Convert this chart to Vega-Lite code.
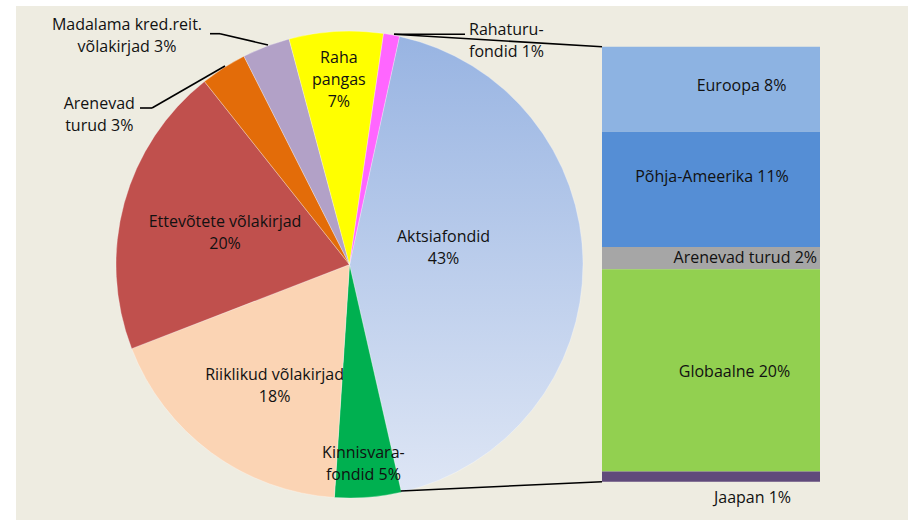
{
  "$schema": "https://vega.github.io/schema/vega-lite/v6.json",
  "width": 892,
  "height": 514,
  "autosize": {"type": "none"},
  "padding": {"left": 16, "top": 6, "right": 0, "bottom": 0},
  "background": "#FFFFFF",
  "config": {
    "view": {"fill": "#EEECE1", "stroke": null},
    "text": {"font": "Open Sans", "fontSize": 16, "lineHeight": 22, "lineBreak": "\n", "color": "#111111"}
  },
  "datasets": {
    "assets": [
      {"order": 1, "asset": "Aktsiafondid", "value": 43.0, "label": "Aktsiafondid\n43%"},
      {"order": 2, "asset": "Kinnisvarafondid", "value": 4.6, "label": "Kinnisvara-\nfondid 5%"},
      {"order": 3, "asset": "Riiklikud võlakirjad", "value": 18.1, "label": "Riiklikud võlakirjad\n18%"},
      {"order": 4, "asset": "Ettevõtete võlakirjad", "value": 20.2, "label": "Ettevõtete võlakirjad\n20%"},
      {"order": 5, "asset": "Arenevad turud", "value": 3.2, "label": "Arenevad\nturud 3%"},
      {"order": 6, "asset": "Madalama kred.reit. võlakirjad", "value": 3.3, "label": "Madalama kred.reit.\nvõlakirjad 3%"},
      {"order": 7, "asset": "Raha pangas", "value": 6.5, "label": "Raha\npangas\n7%"},
      {"order": 8, "asset": "Rahaturufondid", "value": 1.1, "label": "Rahaturu-\nfondid 1%"}
    ],
    "equity": [
      {"order": 1, "region": "Euroopa", "value": 8.4, "label": "Euroopa 8%"},
      {"order": 2, "region": "Põhja-Ameerika", "value": 11.4, "label": "Põhja-Ameerika 11%"},
      {"order": 3, "region": "Arenevad turud", "value": 2.2, "label": "Arenevad turud 2%"},
      {"order": 4, "region": "Globaalne", "value": 20.0, "label": "Globaalne 20%"},
      {"order": 5, "region": "Jaapan", "value": 1.0, "label": "Jaapan 1%"}
    ]
  },
  "resolve": {"scale": {"color": "independent"}},
  "layer": [
    {
      "data": {"name": "assets"},
      "mark": {"type": "arc", "radius": 233.5, "stroke": "#FFFFFF", "strokeWidth": 0.5, "strokeOpacity": 0.6},
      "encoding": {
        "theta": {"field": "value", "type": "quantitative", "stack": true, "scale": {"range": [0.2157, 6.4989]}},
        "order": {"field": "order"},
        "x": {"value": 333.5},
        "y": {"value": 258.5},
        "color": {
          "condition": {
            "test": "datum.asset === 'Aktsiafondid'",
            "value": {"gradient": "linear", "x1": 0, "y1": 0, "x2": 0, "y2": 1,
              "stops": [{"offset": 0, "color": "#98B4E2"}, {"offset": 1, "color": "#DEE6F5"}]}
          },
          "field": "asset",
          "type": "nominal",
          "legend": null,
          "scale": {
            "domain": ["Aktsiafondid", "Kinnisvarafondid", "Riiklikud võlakirjad", "Ettevõtete võlakirjad", "Arenevad turud", "Madalama kred.reit. võlakirjad", "Raha pangas", "Rahaturufondid"],
            "range": ["#A9C0E8", "#00B050", "#FBD4B4", "#C0504D", "#E36C09", "#B2A1C7", "#FFFF00", "#FF66FF"]
          }
        }
      }
    },
    {
      "data": {"name": "equity"},
      "transform": [{"stack": "value", "groupby": [], "sort": [{"field": "order", "order": "ascending"}], "as": ["v0", "v1"]}],
      "mark": {"type": "rect"},
      "encoding": {
        "x": {"value": 586},
        "x2": {"value": 804},
        "y": {"field": "v0", "type": "quantitative", "axis": null, "scale": {"domain": [0, 43], "range": [40.7, 475.7]}},
        "y2": {"field": "v1"},
        "color": {
          "field": "region",
          "type": "nominal",
          "legend": null,
          "scale": {
            "domain": ["Euroopa", "Põhja-Ameerika", "Arenevad turud", "Globaalne", "Jaapan"],
            "range": ["#8DB3E2", "#558ED5", "#A6A6A6", "#92D050", "#604A7B"]
          }
        }
      }
    },
    {"data": {"values": [{}]}, "mark": {"type": "rule", "color": "#000000", "strokeWidth": 1.6}, "encoding": {"x": {"value": 194}, "y": {"value": 27.7}, "x2": {"value": 204}, "y2": {"value": 27.7}}},
    {"data": {"values": [{}]}, "mark": {"type": "rule", "color": "#000000", "strokeWidth": 1.6}, "encoding": {"x": {"value": 204}, "y": {"value": 27.7}, "x2": {"value": 252}, "y2": {"value": 39}}},
    {"data": {"values": [{}]}, "mark": {"type": "rule", "color": "#000000", "strokeWidth": 1.6}, "encoding": {"x": {"value": 124}, "y": {"value": 102}, "x2": {"value": 136}, "y2": {"value": 102}}},
    {"data": {"values": [{}]}, "mark": {"type": "rule", "color": "#000000", "strokeWidth": 1.6}, "encoding": {"x": {"value": 136}, "y": {"value": 102}, "x2": {"value": 209}, "y2": {"value": 60}}},
    {"data": {"values": [{}]}, "mark": {"type": "rule", "color": "#000000", "strokeWidth": 1.6}, "encoding": {"x": {"value": 378}, "y": {"value": 28.3}, "x2": {"value": 449}, "y2": {"value": 28.3}}},
    {"data": {"values": [{}]}, "mark": {"type": "rule", "color": "#000000", "strokeWidth": 1.6}, "encoding": {"x": {"value": 378}, "y": {"value": 28.3}, "x2": {"value": 586}, "y2": {"value": 40.7}}},
    {"data": {"values": [{}]}, "mark": {"type": "rule", "color": "#000000", "strokeWidth": 1.6}, "encoding": {"x": {"value": 384.7}, "y": {"value": 485}, "x2": {"value": 586}, "y2": {"value": 475.7}}},
    {
      "data": {"name": "assets"},
      "mark": {"type": "text", "radius": 94, "dy": -27, "align": "center", "baseline": "middle"},
      "encoding": {
        "theta": {"field": "value", "type": "quantitative", "stack": true, "scale": {"range": [0.2157, 6.4989]}},
        "order": {"field": "order"}, "x": {"value": 333.5}, "y": {"value": 258.5},
        "text": {"condition": {"test": "datum.asset === 'Aktsiafondid'", "field": "label"}, "value": ""}
      }
    },
    {
      "data": {"name": "assets"},
      "mark": {"type": "text", "radius": 200, "dx": -2, "dy": -10.5, "align": "center", "baseline": "middle"},
      "encoding": {
        "theta": {"field": "value", "type": "quantitative", "stack": true, "scale": {"range": [0.2157, 6.4989]}},
        "order": {"field": "order"}, "x": {"value": 333.5}, "y": {"value": 258.5},
        "text": {"condition": {"test": "datum.asset === 'Kinnisvarafondid'", "field": "label"}, "value": ""}
      }
    },
    {
      "data": {"name": "assets"},
      "mark": {"type": "text", "radius": 140, "dx": 8, "dy": -2.5, "align": "center", "baseline": "middle"},
      "encoding": {
        "theta": {"field": "value", "type": "quantitative", "stack": true, "scale": {"range": [0.2157, 6.4989]}},
        "order": {"field": "order"}, "x": {"value": 333.5}, "y": {"value": 258.5},
        "text": {"condition": {"test": "datum.asset === 'Riiklikud võlakirjad'", "field": "label"}, "value": ""}
      }
    },
    {
      "data": {"name": "assets"},
      "mark": {"type": "text", "radius": 129, "dy": -8.5, "align": "center", "baseline": "middle"},
      "encoding": {
        "theta": {"field": "value", "type": "quantitative", "stack": true, "scale": {"range": [0.2157, 6.4989]}},
        "order": {"field": "order"}, "x": {"value": 333.5}, "y": {"value": 258.5},
        "text": {"condition": {"test": "datum.asset === 'Ettevõtete võlakirjad'", "field": "label"}, "value": ""}
      }
    },
    {
      "data": {"name": "assets"},
      "mark": {"type": "text", "radius": 260, "dx": -110, "dy": 58.5, "align": "center", "baseline": "middle"},
      "encoding": {
        "theta": {"field": "value", "type": "quantitative", "stack": true, "scale": {"range": [0.2157, 6.4989]}},
        "order": {"field": "order"}, "x": {"value": 333.5}, "y": {"value": 258.5},
        "text": {"condition": {"test": "datum.asset === 'Arenevad turud'", "field": "label"}, "value": ""}
      }
    },
    {
      "data": {"name": "assets"},
      "mark": {"type": "text", "radius": 260, "dx": -129.6, "dy": 3.5, "align": "center", "baseline": "middle"},
      "encoding": {
        "theta": {"field": "value", "type": "quantitative", "stack": true, "scale": {"range": [0.2157, 6.4989]}},
        "order": {"field": "order"}, "x": {"value": 333.5}, "y": {"value": 258.5},
        "text": {"condition": {"test": "datum.asset === 'Madalama kred.reit. võlakirjad'", "field": "label"}, "value": ""}
      }
    },
    {
      "data": {"name": "assets"},
      "mark": {"type": "text", "radius": 185, "dy": -21.5, "align": "center", "baseline": "middle"},
      "encoding": {
        "theta": {"field": "value", "type": "quantitative", "stack": true, "scale": {"range": [0.2157, 6.4989]}},
        "order": {"field": "order"}, "x": {"value": 333.5}, "y": {"value": 258.5},
        "text": {"condition": {"test": "datum.asset === 'Raha pangas'", "field": "label"}, "value": ""}
      }
    },
    {
      "data": {"name": "assets"},
      "mark": {"type": "text", "radius": 240, "dx": 76.3, "dy": 1.7, "align": "left", "baseline": "middle"},
      "encoding": {
        "theta": {"field": "value", "type": "quantitative", "stack": true, "scale": {"range": [0.2157, 6.4989]}},
        "order": {"field": "order"}, "x": {"value": 333.5}, "y": {"value": 258.5},
        "text": {"condition": {"test": "datum.asset === 'Rahaturufondid'", "field": "label"}, "value": ""}
      }
    },
    {
      "data": {"name": "equity"},
      "mark": {"type": "text", "align": "center", "baseline": "middle", "dy": -45.7},
      "encoding": {
        "x": {"value": 725.5},
        "y": {"field": "value", "type": "quantitative", "stack": "zero", "axis": null, "scale": {"domain": [0, 43], "range": [40.7, 475.7]}},
        "order": {"field": "order"},
        "text": {"condition": {"test": "datum.region === 'Euroopa'", "field": "label"}, "value": ""}
      }
    },
    {
      "data": {"name": "equity"},
      "mark": {"type": "text", "align": "center", "baseline": "middle", "dy": -69.7},
      "encoding": {
        "x": {"value": 696},
        "y": {"field": "value", "type": "quantitative", "stack": "zero", "axis": null, "scale": {"domain": [0, 43], "range": [40.7, 475.7]}},
        "order": {"field": "order"},
        "text": {"condition": {"test": "datum.region === 'Põhja-Ameerika'", "field": "label"}, "value": ""}
      }
    },
    {
      "data": {"name": "equity"},
      "mark": {"type": "text", "align": "right", "baseline": "middle", "dy": -11.3},
      "encoding": {
        "x": {"value": 801},
        "y": {"field": "value", "type": "quantitative", "stack": "zero", "axis": null, "scale": {"domain": [0, 43], "range": [40.7, 475.7]}},
        "order": {"field": "order"},
        "text": {"condition": {"test": "datum.region === 'Arenevad turud'", "field": "label"}, "value": ""}
      }
    },
    {
      "data": {"name": "equity"},
      "mark": {"type": "text", "align": "center", "baseline": "middle", "dy": -99.6},
      "encoding": {
        "x": {"value": 718.5},
        "y": {"field": "value", "type": "quantitative", "stack": "zero", "axis": null, "scale": {"domain": [0, 43], "range": [40.7, 475.7]}},
        "order": {"field": "order"},
        "text": {"condition": {"test": "datum.region === 'Globaalne'", "field": "label"}, "value": ""}
      }
    },
    {
      "data": {"name": "equity"},
      "mark": {"type": "text", "align": "center", "baseline": "middle", "dy": 16.3},
      "encoding": {
        "x": {"value": 736.5},
        "y": {"field": "value", "type": "quantitative", "stack": "zero", "axis": null, "scale": {"domain": [0, 43], "range": [40.7, 475.7]}},
        "order": {"field": "order"},
        "text": {"condition": {"test": "datum.region === 'Jaapan'", "field": "label"}, "value": ""}
      }
    }
  ]
}
